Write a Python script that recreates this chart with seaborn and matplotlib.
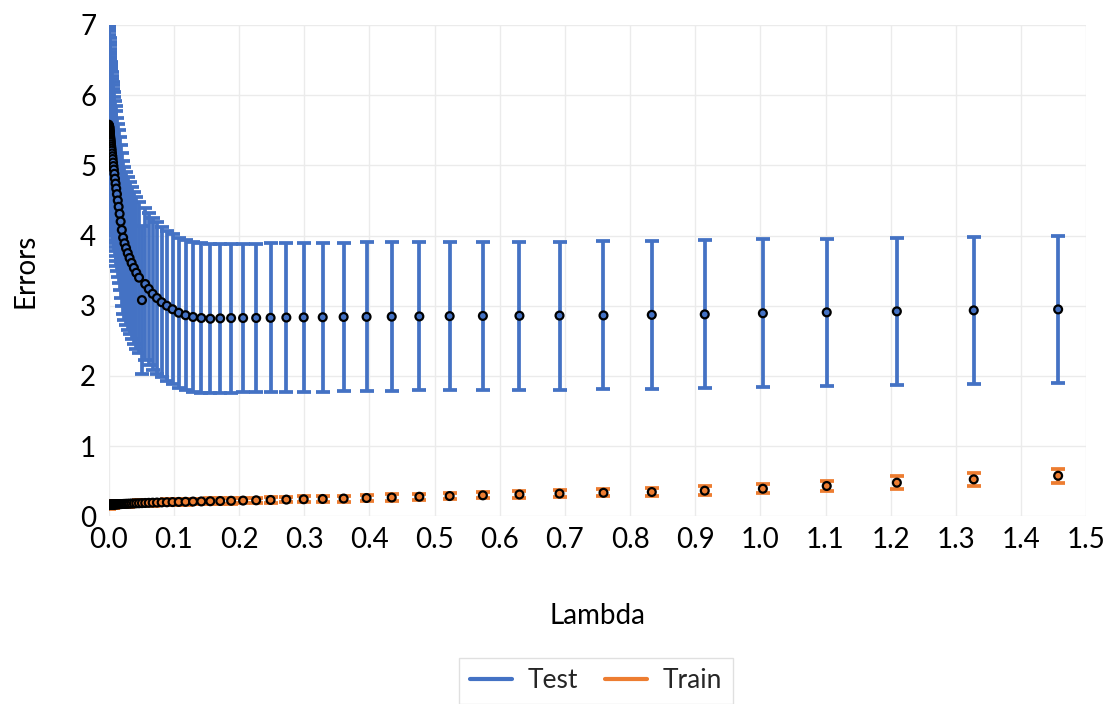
import numpy as np
import pandas as pd
import matplotlib
matplotlib.use("Agg")
import matplotlib.pyplot as plt
from matplotlib.lines import Line2D
import seaborn as sns

# lambda values (shared by both series)
lam = [0.0,
       0.00049, 0.00054, 0.00059, 0.00065, 0.00071, 0.00078, 0.00085, 0.00094, 0.00103, 0.00113,
       0.00124, 0.00136, 0.00149, 0.00164, 0.00180, 0.00197, 0.00217, 0.00238, 0.00261, 0.00286,
       0.00314, 0.00345, 0.00378, 0.00415, 0.00456,
       0.0050, 0.0055, 0.0060, 0.0066, 0.0072, 0.0079, 0.0087, 0.0096, 0.0105, 0.0115,
       0.0126, 0.0139, 0.0152, 0.0167, 0.0183, 0.0201, 0.0221, 0.0242, 0.0266, 0.0292,
       0.0320, 0.0351, 0.0386, 0.0423, 0.0465, 0.0510, 0.0560, 0.0614, 0.0674, 0.0740,
       0.0812, 0.0892, 0.0979, 0.1074, 0.1179, 0.1294, 0.1421, 0.1559, 0.1711, 0.1878,
       0.2062, 0.2263, 0.2484, 0.2726, 0.2992, 0.3284, 0.3605, 0.3957, 0.4343, 0.4767,
       0.5232, 0.5742, 0.6303, 0.6918, 0.7593, 0.8334, 0.9147, 1.0039, 1.1019, 1.2095,
       1.3275, 1.4570]

test_mean = [5.58,
             5.56, 5.56, 5.55, 5.55, 5.54, 5.54, 5.53, 5.52, 5.51, 5.50,
             5.49, 5.48, 5.47, 5.46, 5.44, 5.43, 5.41, 5.39, 5.37, 5.35,
             5.33, 5.30, 5.27, 5.24, 5.21,
             5.17, 5.13, 5.09, 5.04, 4.99, 4.94, 4.88, 4.81, 4.74, 4.67,
             4.59, 4.50, 4.41, 4.31, 4.20, 4.08, 3.97, 3.89, 3.82, 3.75,
             3.68, 3.61, 3.54, 3.47, 3.40, 3.08, 3.31, 3.24, 3.17, 3.11,
             3.05, 3.00, 2.95, 2.90, 2.865, 2.84, 2.825, 2.815, 2.82, 2.824,
             2.825, 2.826, 2.828, 2.832, 2.834, 2.836, 2.840, 2.842, 2.845, 2.848,
             2.852, 2.855, 2.857, 2.860, 2.862, 2.870, 2.877, 2.893, 2.906, 2.920,
             2.934, 2.948]

test_sd = [1.50,
           1.48, 1.47, 1.46, 1.46, 1.45, 1.45, 1.44, 1.43, 1.40, 1.36,
           1.32, 1.28, 1.24, 1.20, 1.17, 1.15, 1.13, 1.12, 1.12, 1.12,
           1.12, 1.12, 1.12, 1.12, 1.12,
           1.10, 1.10, 1.10, 1.10, 1.10, 1.10, 1.10, 1.10, 1.10, 1.10,
           1.09, 1.09, 1.09, 1.09, 1.09, 1.09, 1.09, 1.09, 1.09, 1.09,
           1.08, 1.08, 1.08, 1.08, 1.08, 1.05, 1.08, 1.08, 1.08, 1.08,
           1.07, 1.07, 1.07, 1.07, 1.07, 1.07, 1.065, 1.06, 1.06, 1.06,
           1.06, 1.06, 1.06, 1.06, 1.06, 1.06, 1.06, 1.06, 1.06, 1.055,
           1.055, 1.055, 1.055, 1.055, 1.055, 1.055, 1.055, 1.052, 1.052, 1.050,
           1.050, 1.050]

train_mean = [0.161,
              0.161, 0.161, 0.161, 0.161, 0.161, 0.162, 0.162, 0.162, 0.162, 0.162,
              0.162, 0.162, 0.162, 0.163, 0.163, 0.163, 0.163, 0.163, 0.164, 0.164,
              0.164, 0.164, 0.165, 0.165, 0.165,
              0.166, 0.166, 0.166, 0.167, 0.167, 0.168, 0.168, 0.169, 0.170, 0.170,
              0.171, 0.172, 0.172, 0.173, 0.174, 0.175, 0.176, 0.177, 0.178, 0.179,
              0.180, 0.182, 0.183, 0.185, 0.186, 0.188, 0.190, 0.192, 0.194, 0.196,
              0.198, 0.200, 0.203, 0.205, 0.207, 0.210, 0.212, 0.215, 0.218, 0.221,
              0.224, 0.228, 0.233, 0.238, 0.243, 0.247, 0.253, 0.261, 0.268, 0.279,
              0.289, 0.299, 0.311, 0.323, 0.335, 0.346, 0.365, 0.393, 0.432, 0.479,
              0.527, 0.578]

train_sd = [0.050,
            0.045, 0.045, 0.045, 0.045, 0.045, 0.045, 0.045, 0.045, 0.045, 0.045,
            0.045, 0.045, 0.045, 0.045, 0.045, 0.045, 0.045, 0.045, 0.045, 0.045,
            0.045, 0.045, 0.045, 0.045, 0.045,
            0.042, 0.042, 0.042, 0.042, 0.042, 0.042, 0.042, 0.042, 0.042, 0.042,
            0.040, 0.040, 0.040, 0.040, 0.040, 0.040, 0.040, 0.040, 0.040, 0.040,
            0.040, 0.040, 0.040, 0.040, 0.040, 0.040, 0.040, 0.040, 0.040, 0.040,
            0.040, 0.040, 0.040, 0.040, 0.040, 0.040, 0.040, 0.040, 0.040, 0.040,
            0.040, 0.040, 0.040, 0.040, 0.041, 0.041, 0.042, 0.042, 0.043, 0.043,
            0.044, 0.045, 0.046, 0.048, 0.050, 0.055, 0.062, 0.065, 0.072, 0.090,
            0.097, 0.100]

x_ticks = [0.0, 0.1, 0.2, 0.3, 0.4, 0.5, 0.6, 0.7, 0.8, 0.9, 1.0, 1.1, 1.2, 1.3, 1.4, 1.5]
y_ticks = [0, 1, 2, 3, 4, 5, 6, 7]

BLUE = "#4472C4"
ORANGE = "#ED7D31"

df = pd.DataFrame({
    "Lambda": lam * 2,
    "Errors": test_mean + train_mean,
    "sd": test_sd + train_sd,
    "set": ["Test"] * len(lam) + ["Train"] * len(lam),
})

sns.set_theme(style="whitegrid")
plt.rcParams["font.family"] = ["Lato", "DejaVu Sans"]

fig, ax = plt.subplots(figsize=(11.14, 7.04), dpi=100)
fig.subplots_adjust(left=0.0976, right=0.975, top=0.9645, bottom=0.2666)

# error bars first, markers on top
for name, col in [("Test", BLUE), ("Train", ORANGE)]:
    d = df[df["set"] == name]
    ax.errorbar(d["Lambda"], d["Errors"], yerr=d["sd"], fmt="none",
                ecolor=col, elinewidth=2.7, capsize=4.7, capthick=2.7, zorder=2)

sns.scatterplot(data=df, x="Lambda", y="Errors", hue="set",
                palette={"Test": BLUE, "Train": ORANGE},
                s=32, edgecolor="black", linewidth=1.6, zorder=4,
                legend=False, ax=ax)

ax.set_xlim(0, 1.5)
ax.set_ylim(0, 7)
ax.set_xticks(x_ticks)
ax.set_xticklabels([f"{t:.1f}" for t in x_ticks])
ax.set_yticks(y_ticks)
ax.grid(True, color="#ebebeb", linewidth=1.0)
for s in ax.spines.values():
    s.set_visible(False)
ax.tick_params(axis="both", length=0, labelsize=20, colors="black")
ax.tick_params(axis="x", pad=8)
ax.tick_params(axis="y", pad=9)

ax.set_xlabel("Lambda", fontsize=20, labelpad=36, color="black")
ax.set_ylabel("Errors", fontsize=20, labelpad=30, color="black")

handles = [Line2D([0], [0], color=BLUE, lw=3),
           Line2D([0], [0], color=ORANGE, lw=3)]
leg = fig.legend(handles, ["Test", "Train"], loc="upper center",
                 bbox_to_anchor=(0.535, 0.066), ncol=2, fontsize=19,
                 frameon=True, fancybox=False, handlelength=1.6,
                 handletextpad=0.6, columnspacing=1.0, borderpad=0.4,
                 borderaxespad=0)
leg.get_frame().set_edgecolor("#d9d9d9")
leg.get_frame().set_linewidth(1.0)

fig.savefig("out.png", dpi=100, facecolor="white")
